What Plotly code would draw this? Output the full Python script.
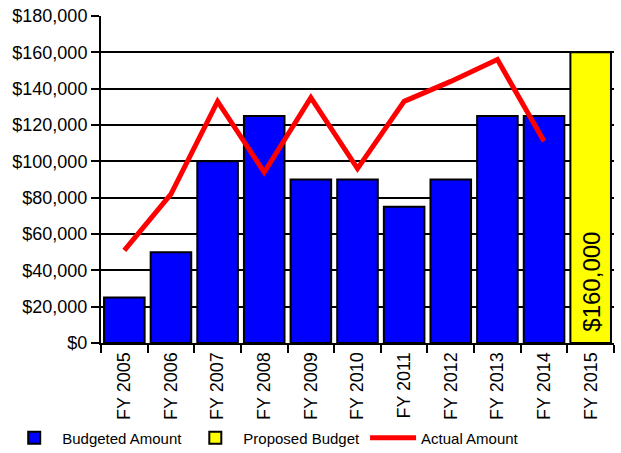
import plotly.graph_objects as go

categories = ["FY 2005", "FY 2006", "FY 2007", "FY 2008", "FY 2009", "FY 2010",
              "FY 2011", "FY 2012", "FY 2013", "FY 2014", "FY 2015"]
budgeted = [25000, 50000, 100000, 125000, 90000, 90000, 75000, 90000, 125000, 125000, None]
proposed = [None, None, None, None, None, None, None, None, None, None, 160000]
actual = [51000, 82000, 133000, 94000, 135000, 96000, 133000, 144000, 156000, 111000, None]
y_ticks = [0, 20000, 40000, 60000, 80000, 100000, 120000, 140000, 160000, 180000]

fig = go.Figure()
fig.add_trace(go.Bar(x=categories, y=budgeted, name="Budgeted Amount",
                     marker=dict(color="#0000FF", line=dict(color="black", width=2))))
fig.add_trace(go.Bar(x=categories, y=proposed, name="Proposed Budget",
                     marker=dict(color="#FFFF00", line=dict(color="black", width=2))))
fig.add_trace(go.Scatter(x=categories, y=actual, name="Actual Amount", mode="lines",
                         line=dict(color="#FF0000", width=5)))

for cat, val in zip(categories, proposed):
    if val is not None:
        fig.add_annotation(x=cat, y=0, text=f"${val:,.0f}", textangle=-90,
                           showarrow=False, yanchor="bottom", yshift=9,
                           font=dict(family="Liberation Sans, Arial", size=24, color="black"))

fig.update_layout(
    width=621, height=453,
    margin=dict(l=101, r=7, t=16, b=110, autoexpand=False),
    paper_bgcolor="white", plot_bgcolor="white",
    barmode="overlay", bargap=0.13,
    font=dict(family="Liberation Sans, Arial", size=17, color="black"),
    showlegend=True,
    legend=dict(orientation="h", xref="container", yref="container",
                x=0.01, xanchor="left", y=1 - 438 / 453, yanchor="middle",
                bgcolor="rgba(0,0,0,0)",
                font=dict(family="Liberation Sans, Arial", size=15),
                itemwidth=46, tracegroupgap=0, traceorder="normal"),
)
fig.update_xaxes(type="category", tickangle=-90, showline=True, linecolor="black", linewidth=2,
                 ticks="outside", tickson="boundaries", ticklen=8, tickwidth=2, tickcolor="black",
                 showgrid=False, tickfont=dict(size=18), automargin=False)
fig.update_yaxes(range=[0, 180000], tickvals=y_ticks, tickformat="$,.0f",
                 showline=True, linecolor="black", linewidth=2,
                 ticks="outside", ticklen=8, tickwidth=2, tickcolor="black",
                 showgrid=True, gridcolor="black", gridwidth=2, zeroline=False,
                 tickfont=dict(size=18), automargin=False)

fig.write_html("out.html", config={"displayModeBar": False},
               post_script="document.body.style.margin='0';")
